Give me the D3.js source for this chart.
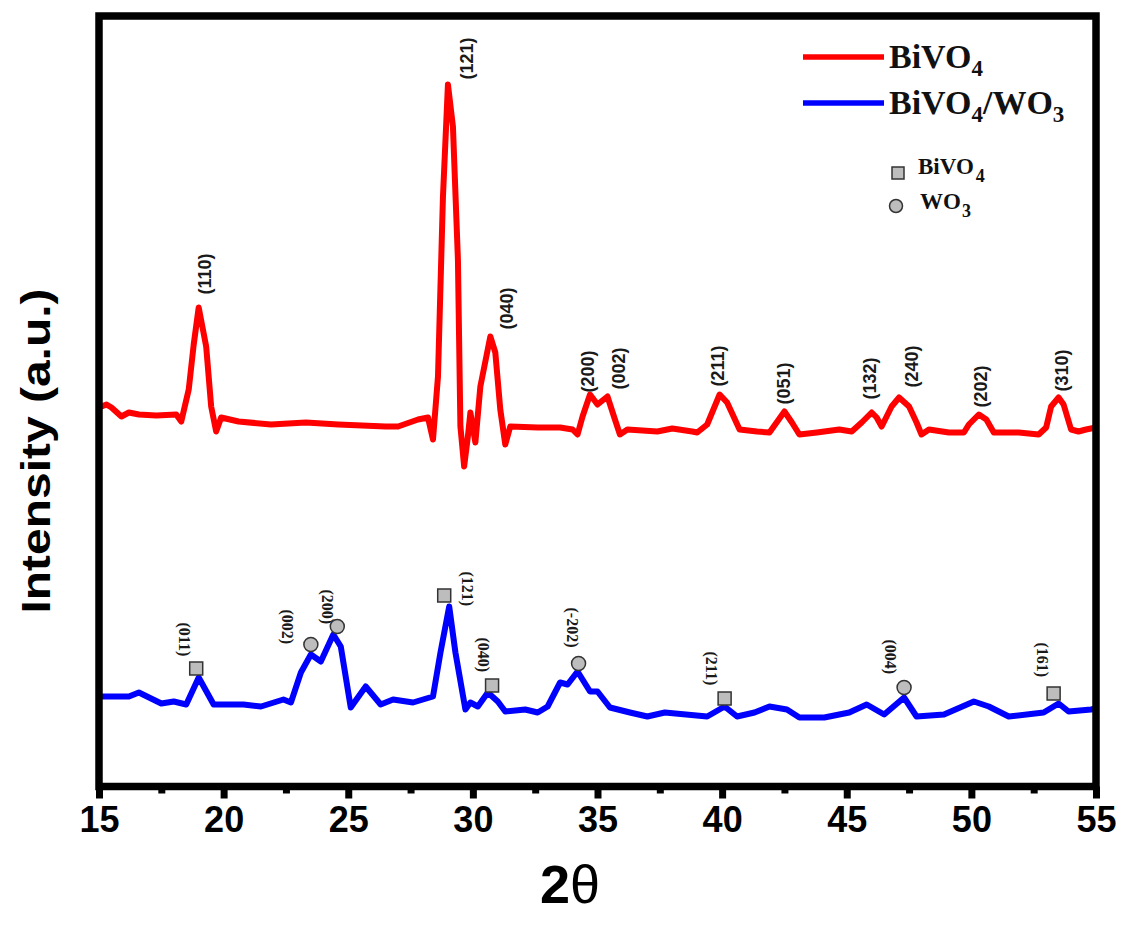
<!DOCTYPE html>
<html>
<head>
<meta charset="utf-8">
<script src="https://cdn.jsdelivr.net/npm/d3@7"></script>
<style>
  html, body { margin: 0; padding: 0; background: #fff; }
  svg { display: block; }
</style>
</head>
<body>
<svg id="chart" width="1121" height="928"></svg>
<script>
// XRD pattern of BiVO4 (2θ in degrees, intensity in a.u.)
const bivo4Theta = [15.0,15.3,15.5,15.9,16.2,16.6,17.3,18.1,18.3,18.6,18.8,19.0,19.3,19.5,19.7,19.9,20.6,21.9,23.3,24.6,26.5,27.0,27.8,28.2,28.4,28.6,28.8,29.0,29.2,29.4,29.5,29.65,29.8,29.9,30.1,30.3,30.7,30.9,31.1,31.3,31.5,32.6,33.5,34.0,34.2,34.4,34.7,35.0,35.4,35.7,35.9,36.2,37.4,38.0,38.8,39.0,39.4,39.9,40.2,40.7,41.4,41.9,42.5,42.8,43.1,43.8,44.7,45.2,45.6,46.0,46.2,46.4,46.8,47.1,47.5,47.8,48.0,48.3,49.1,49.7,49.9,50.3,50.6,50.9,51.9,52.7,53.0,53.2,53.5,53.7,54.0,54.3,54.6,55.0];
const bivo4Intensity = [379,382,379,370,374,372,371,372,365,397,442,479,440,380,355,369,365,362,364,362,360,360,367,369,347,410,590,702,660,527,360,320,350,374,344,400,450,434,377,342,360,359,359,357,352,370,392,382,390,367,352,357,355,358,355,354,362,392,384,357,355,354,375,364,352,354,357,355,364,374,369,360,380,389,380,364,352,357,354,354,362,372,367,354,354,352,359,380,389,382,357,355,357,359];

// XRD pattern of the BiVO4/WO3 composite
const compositeTheta = [15.0,16.2,16.6,17.5,18.0,18.5,19.0,19.6,20.8,21.5,22.4,22.7,23.1,23.5,23.9,24.4,24.7,25.1,25.7,26.3,26.8,27.6,28.4,28.7,29.05,29.3,29.7,29.9,30.2,30.6,31.0,31.3,32.1,32.6,33.0,33.5,33.8,34.2,34.7,35.0,35.5,36.3,37.0,37.7,39.4,40.1,40.6,41.3,41.9,42.6,43.1,44.1,45.1,45.8,46.5,47.3,47.8,48.9,50.1,50.7,51.5,52.9,53.5,53.9,54.8,55.0];
const compositeIntensity = [90,90,94,83,85,82,109,82,82,80,87,84,114,132,125,152,140,79,100,82,87,84,90,134,180,134,77,84,80,94,85,75,77,74,80,104,102,115,95,95,79,74,70,74,70,80,70,74,80,77,69,69,74,82,72,89,70,72,85,80,70,74,83,75,77,78];

// Miller indices of the BiVO4 reflections (label start point)
const bivo4Hkl = ["(110)","(121)","(040)","(200)","(002)","(211)","(051)","(132)","(240)","(202)","(310)"];
const bivo4HklTheta = [19.25,29.76,31.37,34.62,35.86,39.83,42.48,45.93,47.62,50.39,53.64];
const bivo4HklIntensity = [492,707,457,394,397,400,382,387,399,379,395];

// Miller indices in the composite pattern (label start point)
const compositeHkl = ["(011)","(002)","(200)","(121)","(040)","(-202)","(211)","(004)","(161)"];
const compositeHklTheta = [18.45,22.58,24.19,29.80,30.45,34.02,39.59,46.74,52.87];
const compositeHklIntensity = [164,177,197,215,149,179,135,147,144];

// Phase markers in the composite pattern
const bivo4MarkTheta = [18.9,28.85,30.77,40.1,53.3];
const bivo4MarkIntensity = [118,191,101,88,93];
const wo3MarkTheta = [23.5,24.56,34.24,47.3];
const wo3MarkIntensity = [142,160,123,99];

// Axis ticks
const majorTicks = [15,20,25,30,35,40,45,50,55];
const minorTicks = [17.5,22.5,27.5,32.5,37.5,42.5,47.5,52.5];

const svg = d3.select("#chart");
const plotLeft = 99, plotRight = 1096, plotTop = 16, plotBottom = 786.5;

const x = d3.scaleLinear().domain([15, 55]).range([plotLeft, plotRight]);
const y = d3.scaleLinear().domain([0, 770.5]).range([plotBottom, plotTop]);

const line = d3.line().x(d => x(d[0])).y(d => y(d[1]));

// traces
const traces = [
  { t: bivo4Theta, i: bivo4Intensity, color: "#ff0000" },
  { t: compositeTheta, i: compositeIntensity, color: "#0000ff" }
];
traces.forEach(tr => {
  svg.append("path")
    .datum(tr.t.map((v, k) => [v, tr.i[k]]))
    .attr("d", line)
    .attr("fill", "none")
    .attr("stroke", tr.color)
    .attr("stroke-width", 6)
    .attr("stroke-linejoin", "round")
    .attr("stroke-linecap", "round");
});

// BiVO4 reflection labels
svg.append("g").selectAll("text")
  .data(bivo4Hkl)
  .join("text")
  .attr("transform", (d, k) => `translate(${x(bivo4HklTheta[k])},${y(bivo4HklIntensity[k])}) rotate(-90)`)
  .attr("dy", "0.35em")
  .attr("font-family", "Liberation Sans, Arial, sans-serif")
  .attr("font-weight", "bold")
  .attr("font-size", 18)
  .attr("fill", "#1a1a1a")
  .text(d => d);

// composite reflection labels
svg.append("g").selectAll("text")
  .data(compositeHkl)
  .join("text")
  .attr("transform", (d, k) => `translate(${x(compositeHklTheta[k])},${y(compositeHklIntensity[k])}) rotate(90)`)
  .attr("dy", "0.35em")
  .attr("font-family", "Liberation Serif, Times New Roman, serif")
  .attr("font-weight", "bold")
  .attr("font-size", 16)
  .attr("fill", "#1a1a1a")
  .text(d => d);

// phase markers
svg.append("g").selectAll("rect")
  .data(bivo4MarkTheta)
  .join("rect")
  .attr("x", (d) => x(d) - 6.5)
  .attr("y", (d, k) => y(bivo4MarkIntensity[k]) - 6.5)
  .attr("width", 13).attr("height", 13)
  .attr("fill", "#bdbdbd").attr("stroke", "#333").attr("stroke-width", 1.5);

svg.append("g").selectAll("circle")
  .data(wo3MarkTheta)
  .join("circle")
  .attr("cx", d => x(d))
  .attr("cy", (d, k) => y(wo3MarkIntensity[k]))
  .attr("r", 7)
  .attr("fill", "#bdbdbd").attr("stroke", "#333").attr("stroke-width", 1.5);

// frame
svg.append("rect")
  .attr("x", plotLeft).attr("y", plotTop)
  .attr("width", plotRight - plotLeft).attr("height", plotBottom - plotTop)
  .attr("fill", "none").attr("stroke", "#000").attr("stroke-width", 7.5);

// x axis: minor then major ticks
const minorAxis = d3.axisBottom(x).tickValues(minorTicks).tickSize(7).tickFormat("");
const majorAxis = d3.axisBottom(x).tickValues(majorTicks).tickSize(12).tickPadding(8).tickFormat(d3.format("d"));

const gMinor = svg.append("g").attr("transform", `translate(0,${plotBottom})`).call(minorAxis);
const gMajor = svg.append("g").attr("transform", `translate(0,${plotBottom})`).call(majorAxis);
[gMinor, gMajor].forEach(g => {
  g.select(".domain").remove();
  g.selectAll(".tick line").attr("stroke", "#000").attr("stroke-width", 7);
});
gMajor.selectAll(".tick text")
  .attr("fill", "#000")
  .attr("font-family", "Liberation Sans, Arial, sans-serif")
  .attr("font-weight", "bold")
  .attr("font-size", 36);

// axis titles
const xTitle = svg.append("text")
  .attr("x", 570).attr("y", 903)
  .attr("text-anchor", "middle")
  .attr("font-family", "Liberation Sans, Arial, sans-serif")
  .attr("font-size", 54)
  .attr("fill", "#000");
xTitle.append("tspan").attr("font-weight", "bold").text("2");
xTitle.append("tspan").attr("font-weight", "normal").text("θ");

svg.append("text")
  .attr("transform", "translate(50,451) rotate(-90)")
  .attr("text-anchor", "middle")
  .attr("font-family", "Liberation Sans, Arial, sans-serif")
  .attr("font-weight", "bold")
  .attr("font-size", 40)
  .attr("textLength", 325)
  .attr("lengthAdjust", "spacingAndGlyphs")
  .attr("fill", "#000")
  .text("Intensity (a.u.)");

// legend: trace lines
const legendFont = "Liberation Serif, Times New Roman, serif";
const legendRows = [
  { color: "#ff0000", yLine: 57, parts: [["BiVO", 0], ["4", 1]] },
  { color: "#0000ff", yLine: 103, parts: [["BiVO", 0], ["4", 1], ["/WO", 0], ["3", 1]] }
];
legendRows.forEach(r => {
  svg.append("line")
    .attr("x1", 803).attr("x2", 884)
    .attr("y1", r.yLine).attr("y2", r.yLine)
    .attr("stroke", r.color).attr("stroke-width", 5.5);
  const t = svg.append("text")
    .attr("x", 889).attr("y", r.yLine + 11)
    .attr("font-family", legendFont).attr("font-weight", "bold")
    .attr("font-size", 34).attr("fill", "#111");
  let sub = false;
  r.parts.forEach(([s, isSub]) => {
    const ts = t.append("tspan").text(s);
    if (isSub && !sub) { ts.attr("font-size", 23).attr("dy", 8); sub = true; }
    else if (!isSub && sub) { ts.attr("dy", -8); sub = false; }
  });
});

// legend: phase markers
svg.append("rect")
  .attr("x", 892).attr("y", 167).attr("width", 12).attr("height", 12)
  .attr("fill", "#bdbdbd").attr("stroke", "#333").attr("stroke-width", 1.5);
svg.append("circle")
  .attr("cx", 896).attr("cy", 206).attr("r", 6.5)
  .attr("fill", "#bdbdbd").attr("stroke", "#333").attr("stroke-width", 1.5);

const mk1 = svg.append("text").attr("x", 918).attr("y", 174)
  .attr("font-family", legendFont).attr("font-weight", "bold").attr("font-size", 23).attr("fill", "#111");
mk1.append("tspan").text("BiVO");
mk1.append("tspan").attr("font-size", 18).attr("dy", 8).attr("dx", 2).text("4");

const mk2 = svg.append("text").attr("x", 920).attr("y", 209)
  .attr("font-family", legendFont).attr("font-weight", "bold").attr("font-size", 23).attr("fill", "#111");
mk2.append("tspan").text("WO");
mk2.append("tspan").attr("font-size", 18).attr("dy", 8).attr("dx", 1).text("3");
</script>
</body>
</html>
